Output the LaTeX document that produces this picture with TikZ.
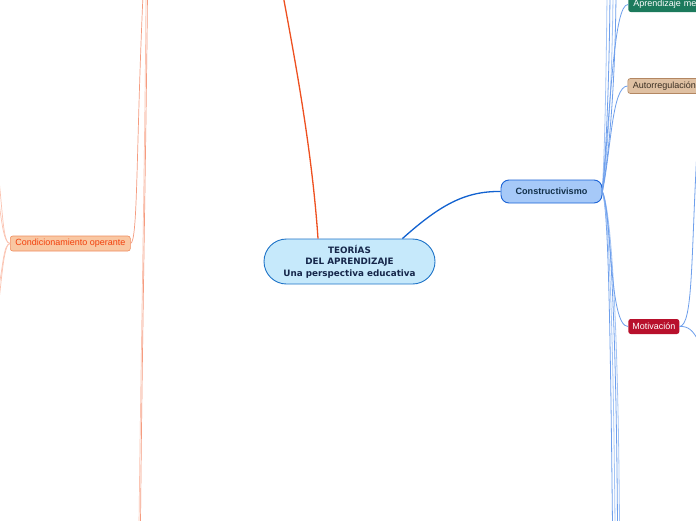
\documentclass[tikz,border=0pt]{standalone}
\usepackage{fontspec}
\setmainfont{Liberation Sans}
\newfontfamily\centralfont{DejaVu Sans}
\definecolor{cenfill}{HTML}{C6E9FB}
\definecolor{cenborder}{HTML}{1F74C8}
\definecolor{centext}{HTML}{15264A}
\definecolor{confill}{HTML}{A6C9F8}
\definecolor{conborder}{HTML}{1B63D6}
\definecolor{context}{HTML}{12304A}
\definecolor{mainblue}{HTML}{1262D0}
\definecolor{mainorange}{HTML}{EE5020}
\definecolor{thinblue}{HTML}{6E9FEC}
\definecolor{thinblueb}{HTML}{A3C4F5}
\definecolor{thinorange}{HTML}{F59C80}
\definecolor{thinorangeb}{HTML}{FBC4B2}
\definecolor{greenfill}{HTML}{1C7A5C}
\definecolor{tanfill}{HTML}{DFC0A2}
\definecolor{tanborder}{HTML}{B38762}
\definecolor{tantext}{HTML}{3A2E22}
\definecolor{redfill}{HTML}{B8102C}
\definecolor{orfill}{HTML}{F9C7A2}
\definecolor{orborder}{HTML}{F08E60}
\definecolor{ortext}{HTML}{F2400C}
\tikzset{
  central/.style={draw=cenborder, line width=0.9pt, fill=cenfill, rounded corners=22.5,
    minimum width=171, minimum height=45, inner sep=0pt, align=center,
    font=\centralfont\bfseries\fontsize{8.8}{11.5}\selectfont, text=centext},
  mainsub/.style={draw=conborder, line width=0.9pt, fill=confill, rounded corners=8,
    minimum width=101, minimum height=23, inner sep=0pt,
    font=\bfseries\fontsize{9.1}{10}\selectfont, text=context},
  leaf/.style={rounded corners=2.5, minimum height=15, inner xsep=5pt, inner ysep=0pt,
    font=\fontsize{9}{10}\selectfont, line width=0.6pt},
  thinb/.style={draw=thinblue, line width=0.8pt},
  thinbl/.style={draw=thinblueb, line width=0.8pt},
  thino/.style={draw=thinorange, line width=0.7pt},
  thinol/.style={draw=thinorangeb, line width=0.7pt},
}
\begin{document}
\begin{tikzpicture}[x=1pt,y=-1pt]
\useasboundingbox (0,0) rectangle (696,520);
\clip (0,0) rectangle (696,520);
\fill[white] (0,0) rectangle (696,520);

% coordinates for free ends
\coordinate (cr) at (602,191);
\coordinate (t1) at (607,-5);
\coordinate (t2) at (610,-5);
\coordinate (t3) at (613,-5);
\coordinate (t4) at (616,-5);
\coordinate (b1) at (612.5,525);
\coordinate (b2) at (615,525);
\coordinate (b3) at (617.5,525);
\coordinate (b4) at (619.5,525);
\coordinate (mr1) at (697,150);
\coordinate (mr2) at (699,342);
\coordinate (otop) at (283,-5);
\coordinate (ot1) at (143,-5);
\coordinate (ot2) at (146,-5);
\coordinate (ot3) at (147.5,-5);
\coordinate (ob1) at (139,525);
\coordinate (ob2) at (140.5,525);
\coordinate (ol1) at (-2,170);
\coordinate (ol2) at (-2,195);
\coordinate (ol3) at (-2,290);
\coordinate (ol4) at (-2,310);

% thin blue bundle (top)
\draw[thinbl] (cr) .. controls (604,170) and (606,100) .. (t1);
\draw[thinb]  (cr) .. controls (605,170) and (609,100) .. (t2);
\draw[thinbl] (cr) .. controls (606,170) and (612,100) .. (t3);
\draw[thinb]  (cr) .. controls (607,170) and (615,100) .. (t4);
% thin blue bundle (bottom)
\draw[thinb]  (cr) .. controls (608,205) and (610,300) .. (b1);
\draw[thinbl] (cr) .. controls (608,205) and (613,300) .. (b2);
\draw[thinb]  (cr) .. controls (609,205) and (616,300) .. (b3);
\draw[thinbl] (cr) .. controls (610,205) and (618,300) .. (b4);

% thin orange lines
\draw[thinol] (ot2) .. controls (145,150) and (141,350) .. (ob1);
\draw[thino]  (ot3) .. controls (146,150) and (142,350) .. (ob2);

% nodes
\node[central] (root) at (349.5,261.5) {TEORÍAS\\DEL APRENDIZAJE\\Una perspectiva educativa};
\node[mainsub] (con) at (551.5,191.5) {Constructivismo};
\node[leaf, fill=greenfill, text=white, anchor=west, minimum width=80, text width=70] (apr) at (628,4.5) {Aprendizaje me};
\node[leaf, draw=tanborder, fill=tanfill, text=tantext, anchor=west] (aut) at (627.5,86) {Autorregulación};
\node[leaf, fill=redfill, text=white, anchor=west, minimum width=51, inner xsep=0pt] (mot) at (628,326.5) {Motivación};
\node[leaf, draw=orborder, fill=orfill, text=ortext, anchor=west, minimum width=120, inner xsep=0pt] (cond) at (10,243.5) {Condicionamiento operante};

% main connectors
\draw[mainblue, line width=1.3pt] (root.north east) ++(-33,0) coordinate (rs)
  .. controls (440,205) and (465,191) .. (con.west);
\draw[mainorange, line width=1.3pt] (root.north) ++(-31.5,0) coordinate (ro)
  .. controls (312,150) and (295,60) .. (otop);

% sub connectors
\draw[thinb] (con.east) .. controls (611,100) and (614,4.5) .. (apr.west);
\draw[thinb] (con.east) .. controls (611,150) and (612,86) .. (aut.west);
\draw[thinb] (con.east) .. controls (612,215) and (609,326.5) .. (mot.west);
\draw[thinb] (mot.east) .. controls (693,325) and (691,260) .. (mr1);
\draw[thinb] (mot.east) .. controls (688,326) and (693,330) .. (mr2);

% condicionamiento connectors
\draw[thino] (cond.east) .. controls (138,241) and (136,150) .. (ot1);
\draw[thinol] (cond.west) .. controls (3,243) and (3,215) .. (ol1);
\draw[thinol] (cond.west) .. controls (4,243) and (2,225) .. (ol2);
\draw[thinol] (cond.west) .. controls (3,244) and (3,270) .. (ol3);
\draw[thinol] (cond.west) .. controls (4,244) and (2,275) .. (ol4);
\end{tikzpicture}
\end{document}
